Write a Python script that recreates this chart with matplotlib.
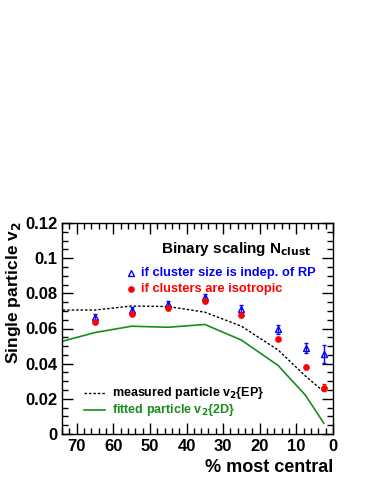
import matplotlib.pyplot as plt
from matplotlib.ticker import MultipleLocator

plt.rcParams["font.family"] = ["Liberation Sans", "DejaVu Sans"]
plt.rcParams["font.weight"] = "bold"
plt.rcParams["mathtext.default"] = "bf"

# centrality bins (% most central)
cent = [65, 55, 45, 35, 25, 15, 7.5, 2.5]

# if cluster size is indep. of RP (open blue triangles)
v2_indep = [0.0663, 0.0705, 0.0739, 0.0777, 0.0709, 0.0596, 0.0491, 0.0455]
err_indep = [0.0018, 0.0018, 0.0020, 0.0022, 0.0022, 0.0025, 0.0028, 0.0050]

# if clusters are isotropic (red dots)
v2_iso = [0.0638, 0.0683, 0.0714, 0.0754, 0.0676, 0.0541, 0.0383, 0.0263]
err_iso = [0.0006, 0.0006, 0.0007, 0.0008, 0.0008, 0.0008, 0.0012, 0.0020]

# curves
cent_line = [75, 65, 55, 45, 35, 25, 15, 7.5, 2.5]
v2_ep = [0.0705, 0.0705, 0.0728, 0.0725, 0.0693, 0.0613, 0.0478, 0.0329, 0.0241]
v2_2d = [0.0521, 0.0577, 0.0613, 0.0607, 0.0623, 0.0534, 0.0390, 0.0220, 0.0061]

green = "#1a8c1a"

fig = plt.figure(figsize=(3.74, 4.84), dpi=100)
ax = fig.add_axes([62 / 374, 1 - 434 / 484, 271 / 374, 211 / 484])

ax.plot(cent_line, v2_ep, color="black", linestyle=(0, (1.8, 1.4)), linewidth=1)
ax.plot(cent_line, v2_2d, color=green, linewidth=1.2)

ax.errorbar(cent, v2_indep, yerr=err_indep, fmt="^", color="blue",
            markerfacecolor="none", markersize=4.3, markeredgewidth=1,
            elinewidth=1, capsize=1.5)
ax.errorbar(cent, v2_iso, yerr=err_iso, fmt="o", color="red",
            markersize=3.8, elinewidth=1, capsize=1.5)

ax.set_xlim(74, 0)
ax.set_ylim(0, 0.12)
ax.xaxis.set_major_locator(MultipleLocator(10))
ax.xaxis.set_minor_locator(MultipleLocator(2))
ax.yaxis.set_minor_locator(MultipleLocator(0.005))
ax.set_yticks([0, 0.02, 0.04, 0.06, 0.08, 0.1, 0.12])
ax.set_yticklabels(["0", "0.02", "0.04", "0.06", "0.08", "0.1", "0.12"])
ax.tick_params(which="both", direction="in", top=True, right=True,
               labelsize=12, width=1)
ax.tick_params(which="major", length=8)
ax.tick_params(which="minor", length=4)
for s in ax.spines.values():
    s.set_linewidth(1)

ax.set_xlabel("% most central", fontsize=13, fontweight="bold", loc="right")
ax.set_ylabel("Single particle v$_2$", fontsize=12.5, fontweight="bold", loc="top")
ax.yaxis.set_label_coords(-0.145, 1.01)

# upper legend
ax.text(0.92, 0.86, "Binary scaling N$_{clust}$", transform=ax.transAxes,
        ha="right", fontsize=11, fontweight="bold")
ax.plot([0.255], [0.765], "^", transform=ax.transAxes, color="blue",
        markerfacecolor="none", markersize=4.3)
ax.text(0.29, 0.765, "if cluster size is indep. of RP", transform=ax.transAxes,
        va="center", color="blue", fontsize=9.3, fontweight="bold")
ax.plot([0.255], [0.685], "o", transform=ax.transAxes, color="red",
        markersize=3.8)
ax.text(0.29, 0.685, "if clusters are isotropic", transform=ax.transAxes,
        va="center", color="red", fontsize=9.3, fontweight="bold")

# lower legend
ax.plot([0.08, 0.16], [0.195, 0.195], transform=ax.transAxes, color="black",
        linestyle=(0, (1.8, 1.4)), linewidth=1)
ax.text(0.185, 0.195, "measured particle v$_2${EP}", transform=ax.transAxes,
        va="center", fontsize=9, fontweight="bold")
ax.plot([0.08, 0.16], [0.115, 0.115], transform=ax.transAxes, color=green,
        linewidth=1.2)
ax.text(0.185, 0.115, "fitted particle v$_2${2D}", transform=ax.transAxes,
        va="center", color=green, fontsize=9, fontweight="bold")

fig.savefig("out.png", dpi=100)
